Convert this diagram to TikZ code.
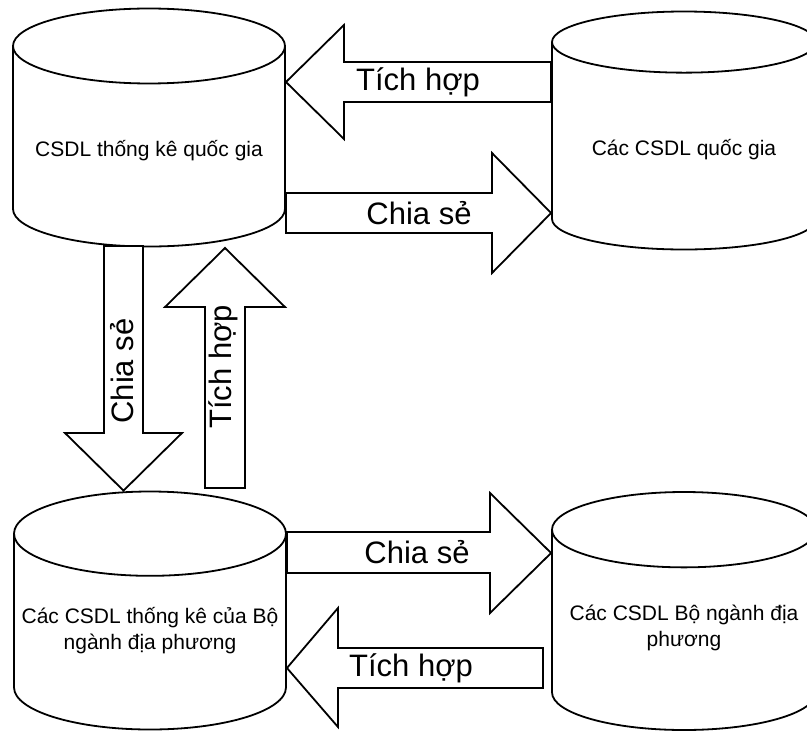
\documentclass[tikz,border=0pt]{standalone}
\usepackage{fontspec}
\setmainfont{Liberation Sans}
\usetikzlibrary{shapes.geometric}

\begin{document}
\begin{tikzpicture}[x=1pt,y=-1pt,
  db/.style={shape=cylinder,shape border rotate=90,aspect=0.32,draw,line width=1.8pt,fill=white,
    minimum width=272pt,minimum height=238pt,anchor=shape center,align=center,
    font=\fontsize{21}{26}\selectfont},
  blockarrow/.style={draw,line width=1.8pt,fill=white,line join=miter},
  arrowtext/.style={font=\fontsize{31}{36}\selectfont,inner sep=0pt}]
  \useasboundingbox (0,0) rectangle (807,732);
  % databases
  \node[db] (tk) at (149,127.5) {CSDL thống kê quốc gia};
  \node[db,minimum width=264pt] (qg) at (684,130.5) {Các CSDL quốc gia};
  \node[db,text depth=17pt] (bn) at (150,610.5) {Các CSDL thống kê của Bộ\\ngành địa phương};
  \node[db,minimum width=264pt,text depth=17pt] (bnq) at (684,611) {Các CSDL Bộ ngành địa\\phương};
  % top pair
  \draw[blockarrow] (tk.east |- 0,82) -- (344,25) -- (344,62) -- (qg.west |- 0,62)
    -- (qg.west |- 0,102) -- (344,102) -- (344,139) -- cycle;
  \draw[blockarrow] (tk.east |- 0,193) -- (492,193) -- (492,153) -- (qg.west |- 0,213)
    -- (492,273) -- (492,233) -- (tk.east |- 0,233) -- cycle;
  % vertical pair
  \draw[blockarrow] (104,246) -- (104,433) -- (65,433) -- (123.5,0 |- bn.north)
    -- (182,433) -- (143,433) -- (143,246) -- cycle;
  \draw[blockarrow] (205,488) -- (205,307) -- (165,307) -- (225,248)
    -- (285,307) -- (245,307) -- (245,488) -- cycle;
  % bottom pair
  \draw[blockarrow] (bn.east |- 0,532) -- (490,532) -- (490,493) -- (bnq.west |- 0,553)
    -- (490,613) -- (490,573) -- (bn.east |- 0,573) -- cycle;
  \draw[blockarrow] (bn.east |- 0,668) -- (338,608) -- (338,648) -- (543,648)
    -- (543,688) -- (338,688) -- (338,727) -- cycle;
  % labels
  \node[arrowtext] (th1) at (418,82) {Tích hợp};
  \node[arrowtext] (cs1) at (419,213) {Chia sẻ};
  \node[arrowtext,rotate=90] (cs2) at (122,371) {Chia sẻ};
  \node[arrowtext,rotate=90] (th2) at (223,367) {Tích hợp};
  \node[arrowtext] (cs3) at (417,552) {Chia sẻ};
  \node[arrowtext] (th3) at (411,668) {Tích hợp};
\end{tikzpicture}
\end{document}
